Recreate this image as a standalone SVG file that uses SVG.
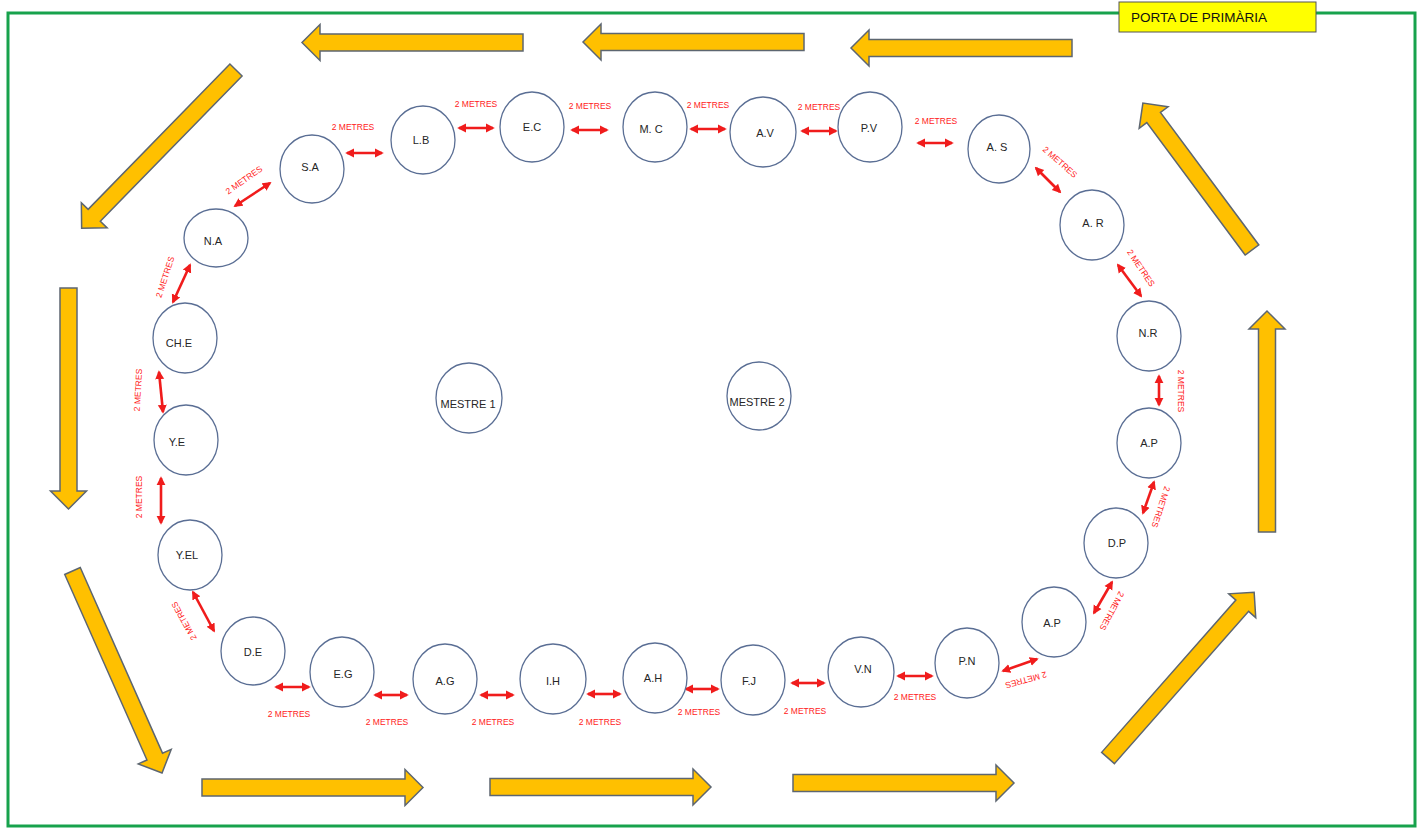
<svg xmlns="http://www.w3.org/2000/svg" xmlns:xlink="http://www.w3.org/1999/xlink" width="1428" height="828" viewBox="0 0 1428 828">
<style>
.bg{fill:#ffffff}
.frame{fill:none;stroke:#17a24c;stroke-width:3}
.node ellipse{fill:#ffffff;stroke:#5a6e94;stroke-width:1.3}
.node text{font-family:"Liberation Sans",Arial,sans-serif;font-size:11px;fill:#262626;text-anchor:middle}
.big{fill:#ffc000;stroke:#5d6670;stroke-width:1.5;stroke-linejoin:miter}
.dist{stroke:#f01c1c;stroke-width:2.6;fill:none;marker-start:url(#ah);marker-end:url(#ah)}
.lbl{font-family:"Liberation Sans",Arial,sans-serif;font-size:8.5px;fill:#ff1a1a;text-anchor:middle}
.door rect{fill:#ffff00;stroke:#555555;stroke-width:1}
.door text{font-family:"Liberation Sans",Arial,sans-serif;font-size:13.5px;fill:#111111}
</style>
<defs>
<marker id="ah" viewBox="0 0 10 10" refX="8" refY="5" markerWidth="9" markerHeight="10" markerUnits="userSpaceOnUse" orient="auto-start-reverse">
<path d="M0,0 L10,5 L0,10 z" fill="#f01c1c"/>
</marker>
<polygon id="barrow" points="0,-8.5 203,-8.5 203,-18 221,0 203,18 203,8.5 0,8.5"/>
<polygon id="barrowS" points="0,-8.5 165,-8.5 165,-18 183,0 165,18 165,8.5 0,8.5"/>
</defs>
<rect class="bg" x="0" y="0" width="1428" height="828"/>
<rect class="frame" x="8" y="13" width="1407" height="813"/>

<g id="flow-arrows">
<use href="#barrow" class="big" transform="translate(523,42.5) rotate(180)"/>
<use href="#barrow" class="big" transform="translate(804,42) rotate(180)"/>
<use href="#barrow" class="big" transform="translate(1072,48) rotate(180)"/>
<use href="#barrow" class="big" transform="translate(236,70) rotate(134.3)"/>
<use href="#barrow" class="big" transform="translate(68.5,288) rotate(90)"/>
<use href="#barrow" class="big" transform="translate(72.5,571) rotate(66.1)"/>
<use href="#barrow" class="big" transform="translate(202,787.5)"/>
<use href="#barrow" class="big" transform="translate(490,787)"/>
<use href="#barrow" class="big" transform="translate(793,783)"/>
<use href="#barrow" class="big" transform="translate(1108,758) rotate(-48.6)"/>
<use href="#barrow" class="big" transform="translate(1267,532) rotate(-90)"/>
<use href="#barrowS" class="big" transform="translate(1252,250) rotate(-126.6)"/>
</g>

<g id="door" class="door">
<rect x="1119" y="2" width="197" height="30"/>
<text x="1131" y="22">PORTA DE PRIMÀRIA</text>
</g>

<g id="connectors">
<line class="dist" x1="347" y1="153" x2="382" y2="153"/>
<line class="dist" x1="459" y1="128" x2="493" y2="128"/>
<line class="dist" x1="572" y1="130" x2="607" y2="130"/>
<line class="dist" x1="691" y1="129" x2="725" y2="129"/>
<line class="dist" x1="802" y1="131" x2="836" y2="131"/>
<line class="dist" x1="918" y1="143" x2="952" y2="143"/>
<line class="dist" x1="1036" y1="168" x2="1060" y2="192"/>
<line class="dist" x1="1118" y1="265" x2="1141" y2="296"/>
<line class="dist" x1="1159" y1="376" x2="1159" y2="405"/>
<line class="dist" x1="1154" y1="482" x2="1143" y2="513"/>
<line class="dist" x1="1112" y1="582" x2="1094" y2="613"/>
<line class="dist" x1="1037" y1="659" x2="1003" y2="671"/>
<line class="dist" x1="898" y1="676" x2="932" y2="676"/>
<line class="dist" x1="792" y1="683" x2="824" y2="683"/>
<line class="dist" x1="686" y1="689" x2="718" y2="689"/>
<line class="dist" x1="588" y1="694" x2="620" y2="694"/>
<line class="dist" x1="481" y1="695" x2="513" y2="695"/>
<line class="dist" x1="375" y1="695" x2="407" y2="695"/>
<line class="dist" x1="276" y1="687" x2="309" y2="687"/>
<line class="dist" x1="193" y1="592" x2="214" y2="631"/>
<line class="dist" x1="161" y1="478" x2="161" y2="523"/>
<line class="dist" x1="159" y1="372" x2="163" y2="412"/>
<line class="dist" x1="190" y1="265" x2="173" y2="302"/>
<line class="dist" x1="235" y1="206" x2="270" y2="183"/>

<text class="lbl" transform="translate(353,127)" dy="0.35em">2 METRES</text>
<text class="lbl" transform="translate(476,104)" dy="0.35em">2 METRES</text>
<text class="lbl" transform="translate(590,106)" dy="0.35em">2 METRES</text>
<text class="lbl" transform="translate(708,105)" dy="0.35em">2 METRES</text>
<text class="lbl" transform="translate(819,107)" dy="0.35em">2 METRES</text>
<text class="lbl" transform="translate(936,121)" dy="0.35em">2 METRES</text>
<text class="lbl" transform="translate(1060,162) rotate(41)" dy="0.35em">2 METRES</text>
<text class="lbl" transform="translate(1141,268) rotate(56)" dy="0.35em">2 METRES</text>
<text class="lbl" transform="translate(1181,391) rotate(90)" dy="0.35em">2 METRES</text>
<text class="lbl" transform="translate(1161,507) rotate(108)" dy="0.35em">2 METRES</text>
<text class="lbl" transform="translate(1112,611) rotate(118)" dy="0.35em">2 METRES</text>
<text class="lbl" transform="translate(1026,680) rotate(165)" dy="0.35em">2 METRES</text>
<text class="lbl" transform="translate(915,697)" dy="0.35em">2 METRES</text>
<text class="lbl" transform="translate(805,711)" dy="0.35em">2 METRES</text>
<text class="lbl" transform="translate(699,712)" dy="0.35em">2 METRES</text>
<text class="lbl" transform="translate(600,722)" dy="0.35em">2 METRES</text>
<text class="lbl" transform="translate(493,722)" dy="0.35em">2 METRES</text>
<text class="lbl" transform="translate(387,722)" dy="0.35em">2 METRES</text>
<text class="lbl" transform="translate(289,714)" dy="0.35em">2 METRES</text>
<text class="lbl" transform="translate(184,621) rotate(-119)" dy="0.35em">2 METRES</text>
<text class="lbl" transform="translate(139,497) rotate(-90)" dy="0.35em">2 METRES</text>
<text class="lbl" transform="translate(138,390) rotate(-87)" dy="0.35em">2 METRES</text>
<text class="lbl" transform="translate(165,277) rotate(-72)" dy="0.35em">2 METRES</text>
<text class="lbl" transform="translate(244,180) rotate(-35)" dy="0.35em">2 METRES</text>
</g>

<g id="n-sa" class="node"><ellipse cx="312" cy="169" rx="32" ry="34"/><text x="310" y="167" dy="0.35em">S.A</text></g>
<g id="n-lb" class="node"><ellipse cx="423" cy="140" rx="32" ry="34"/><text x="421" y="140" dy="0.35em">L.B</text></g>
<g id="n-ec" class="node"><ellipse cx="532" cy="127" rx="32" ry="35"/><text x="532" y="127" dy="0.35em">E.C</text></g>
<g id="n-mc" class="node"><ellipse cx="655" cy="127" rx="32" ry="35"/><text x="651" y="129" dy="0.35em">M. C</text></g>
<g id="n-av" class="node"><ellipse cx="763" cy="132" rx="33" ry="35"/><text x="765" y="133" dy="0.35em">A.V</text></g>
<g id="n-pv" class="node"><ellipse cx="870" cy="127" rx="32" ry="35"/><text x="869" y="128" dy="0.35em">P.V</text></g>
<g id="n-as" class="node"><ellipse cx="999" cy="149" rx="31" ry="34"/><text x="997" y="147" dy="0.35em">A. S</text></g>
<g id="n-ar" class="node"><ellipse cx="1092" cy="225" rx="32" ry="35"/><text x="1093" y="223" dy="0.35em">A. R</text></g>
<g id="n-nr" class="node"><ellipse cx="1149" cy="336" rx="32" ry="35"/><text x="1148" y="333" dy="0.35em">N.R</text></g>
<g id="n-ap1" class="node"><ellipse cx="1149" cy="443" rx="32" ry="35"/><text x="1149" y="443" dy="0.35em">A.P</text></g>
<g id="n-dp" class="node"><ellipse cx="1116" cy="543" rx="32" ry="35"/><text x="1117" y="543" dy="0.35em">D.P</text></g>
<g id="n-ap2" class="node"><ellipse cx="1054" cy="622" rx="32" ry="35"/><text x="1052" y="623" dy="0.35em">A.P</text></g>
<g id="n-pn" class="node"><ellipse cx="967" cy="663" rx="32" ry="35"/><text x="967" y="661" dy="0.35em">P.N</text></g>
<g id="n-vn" class="node"><ellipse cx="861" cy="672" rx="33" ry="35"/><text x="863" y="669" dy="0.35em">V.N</text></g>
<g id="n-fj" class="node"><ellipse cx="753" cy="680" rx="32" ry="35"/><text x="749" y="681" dy="0.35em">F.J</text></g>
<g id="n-ah" class="node"><ellipse cx="655" cy="678" rx="32" ry="35"/><text x="653" y="678" dy="0.35em">A.H</text></g>
<g id="n-ih" class="node"><ellipse cx="553" cy="679" rx="33" ry="35"/><text x="553" y="681" dy="0.35em">I.H</text></g>
<g id="n-ag" class="node"><ellipse cx="445" cy="679" rx="32" ry="35"/><text x="445" y="681" dy="0.35em">A.G</text></g>
<g id="n-eg" class="node"><ellipse cx="342" cy="672" rx="32" ry="35"/><text x="343" y="674" dy="0.35em">E.G</text></g>
<g id="n-de" class="node"><ellipse cx="253" cy="651" rx="32" ry="34"/><text x="253" y="652" dy="0.35em">D.E</text></g>
<g id="n-yel" class="node"><ellipse cx="190" cy="555" rx="32" ry="35"/><text x="187" y="555" dy="0.35em">Y.EL</text></g>
<g id="n-ye" class="node"><ellipse cx="186" cy="440" rx="32" ry="35"/><text x="177" y="442" dy="0.35em">Y.E</text></g>
<g id="n-che" class="node"><ellipse cx="185" cy="338" rx="32" ry="35"/><text x="179" y="343" dy="0.35em">CH.E</text></g>
<g id="n-na" class="node"><ellipse cx="216" cy="238" rx="32" ry="29"/><text x="213" y="241" dy="0.35em">N.A</text></g>
<g id="n-m1" class="node"><ellipse cx="469" cy="398" rx="33" ry="35"/><text x="468" y="404" dy="0.35em">MESTRE 1</text></g>
<g id="n-m2" class="node"><ellipse cx="759" cy="396" rx="32" ry="34"/><text x="757" y="402" dy="0.35em">MESTRE 2</text></g>
</svg>
